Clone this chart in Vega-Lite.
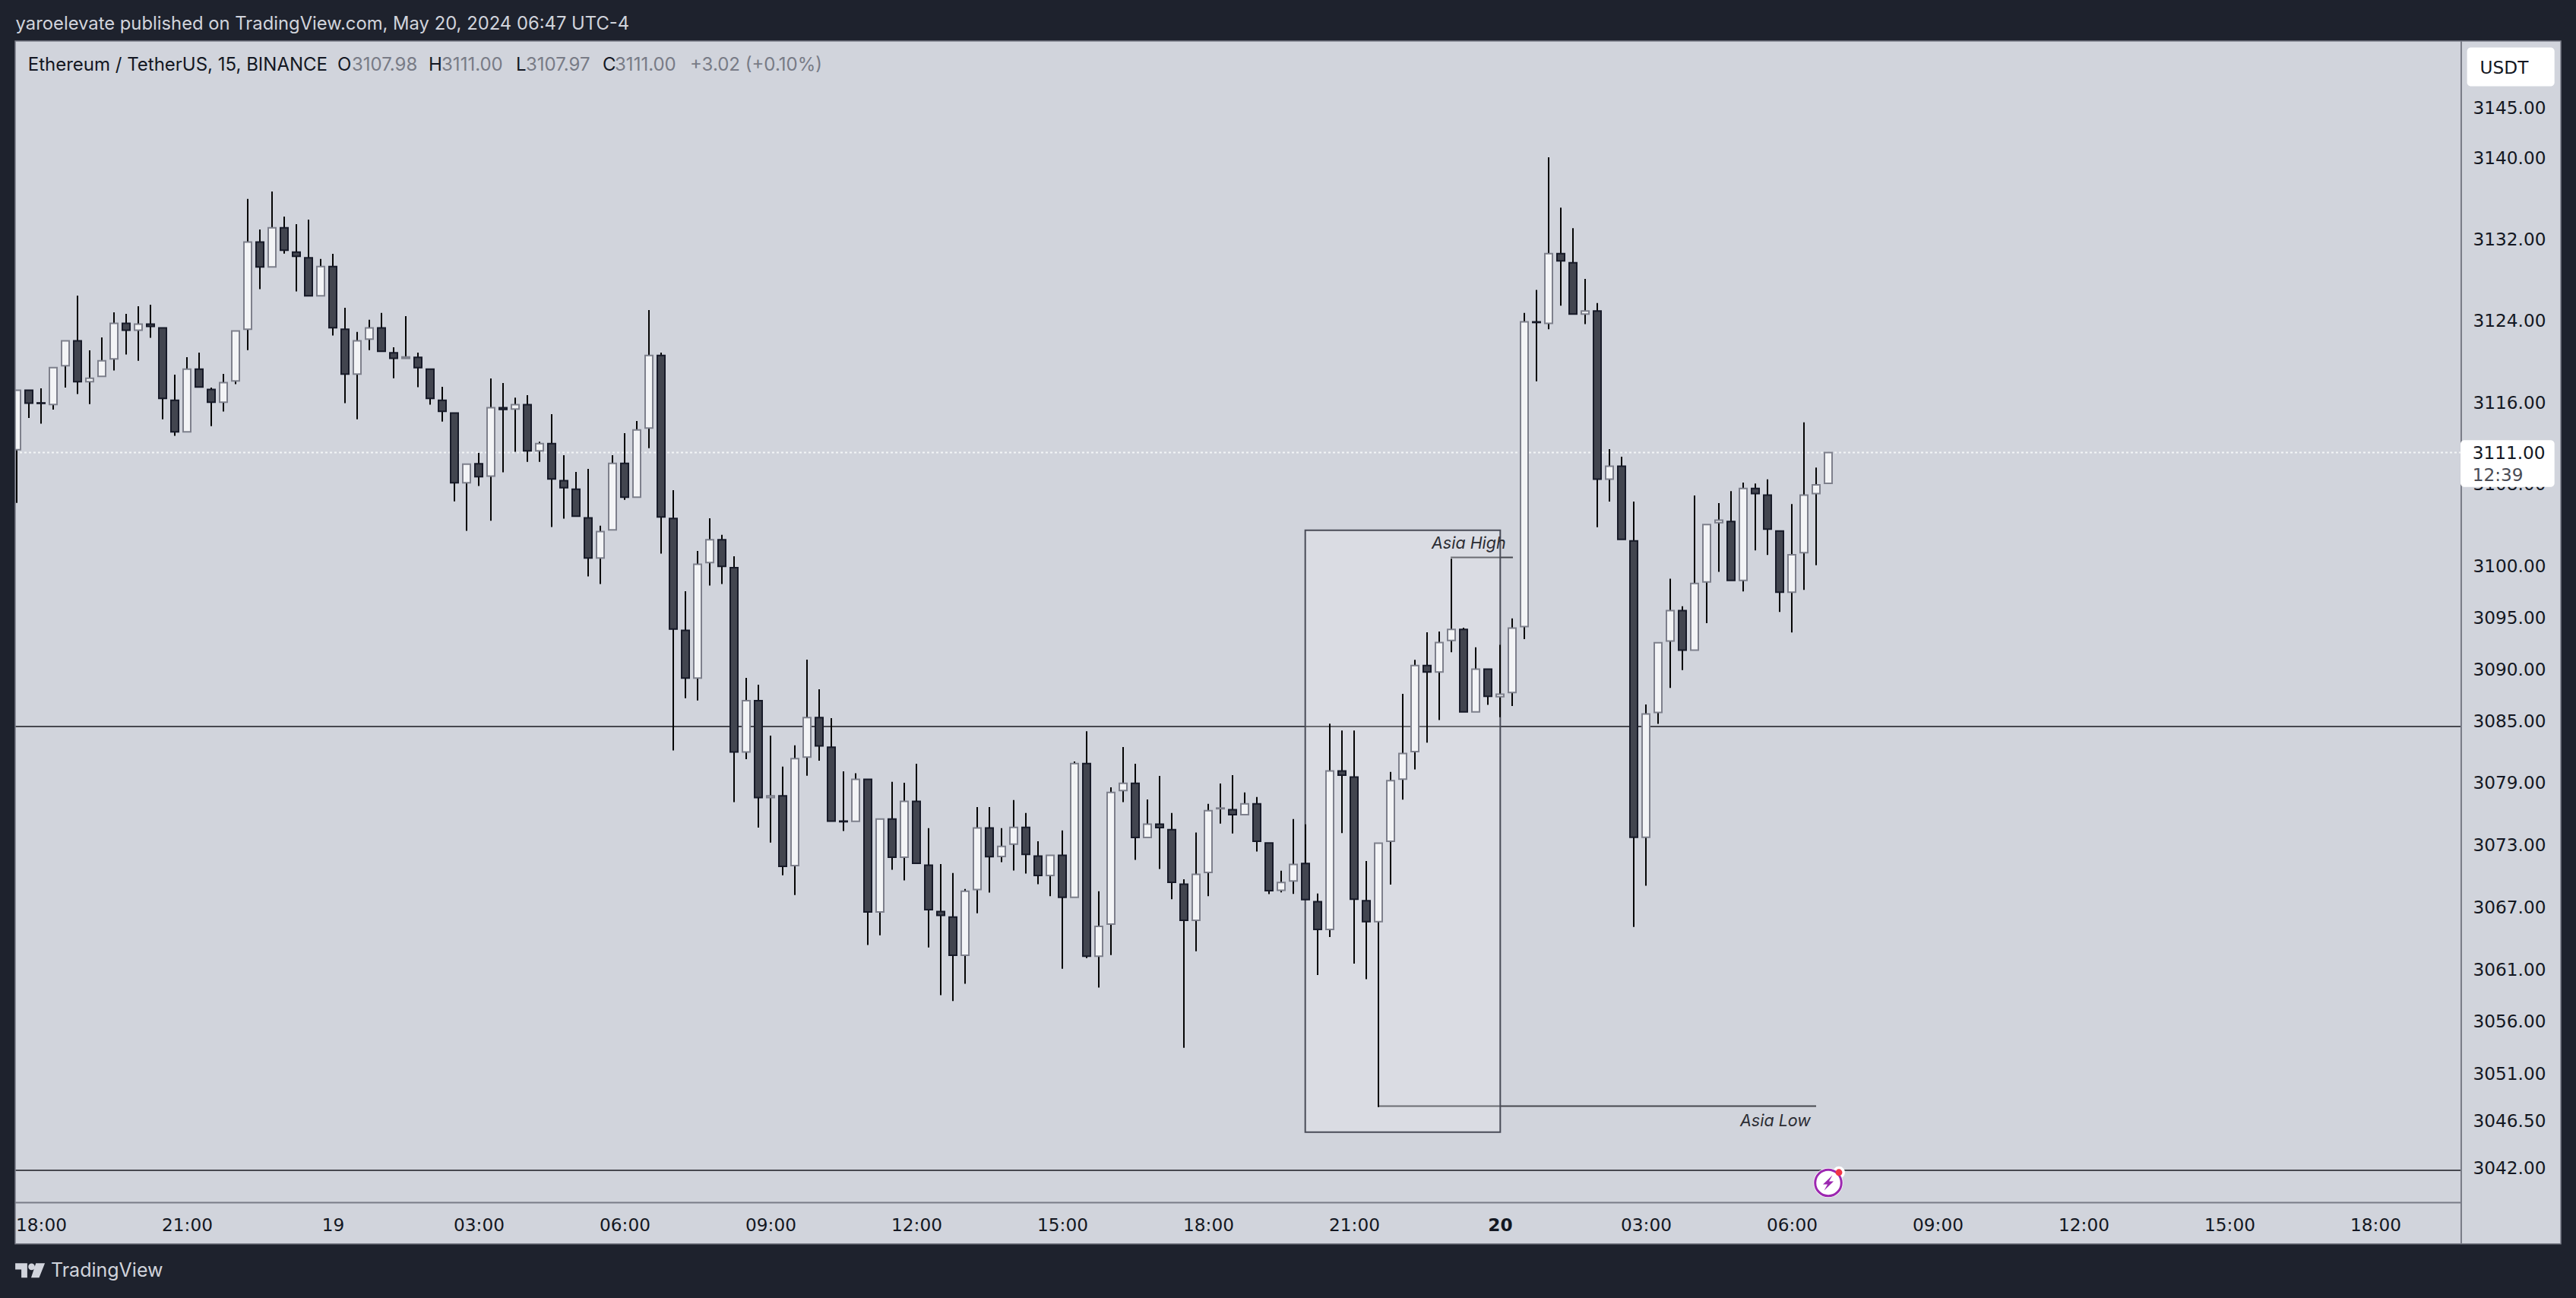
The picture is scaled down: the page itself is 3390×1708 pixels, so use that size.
{"$schema":"https://vega.github.io/schema/vega-lite/v6.json","width":3390,"height":1708,"padding":0,"autosize":{"type":"fit","contains":"padding"},"background":"#d1d4dc","view":{"stroke":null},"config":{"font":"Inter","text":{"font":"Inter"},"scale":{"continuousPadding":0}},
"resolve":{"axis":{"x":"independent","y":"independent"}},
"datasets":{
"candles":[
{"i":0,"o":3111.28,"h":3117.08,"l":3106.08,"c":3117.08},{"i":1,"o":3117.08,"h":3117.08,"l":3114.38,"c":3115.82},{"i":2,"o":3115.85,"h":3117.28,"l":3113.81,"c":3115.8},{"i":3,"o":3115.69,"h":3119.31,"l":3115.2,"c":3119.31},{"i":4,"o":3119.49,"h":3121.92,"l":3117.35,"c":3121.92},{"i":5,"o":3121.92,"h":3126.37,"l":3116.71,"c":3117.92},{"i":6,"o":3117.92,"h":3121,"l":3115.74,"c":3118.27},{"i":7,"o":3118.45,"h":3122.27,"l":3118.45,"c":3119.98},{"i":8,"o":3120.16,"h":3124.73,"l":3119.02,"c":3123.64},{"i":9,"o":3123.64,"h":3124.58,"l":3120.58,"c":3122.97},
{"i":10,"o":3122.97,"h":3125.32,"l":3119.98,"c":3123.56},{"i":11,"o":3123.56,"h":3125.47,"l":3122.22,"c":3123.34},{"i":12,"o":3123.19,"h":3123.19,"l":3114.25,"c":3116.29},{"i":13,"o":3116.11,"h":3118.62,"l":3112.62,"c":3113.01},{"i":14,"o":3113.01,"h":3120.33,"l":3113.01,"c":3119.16},{"i":15,"o":3119.16,"h":3120.78,"l":3117.4,"c":3117.4},{"i":16,"o":3117.16,"h":3117.35,"l":3113.58,"c":3115.92},{"i":17,"o":3115.92,"h":3118.69,"l":3115,"c":3117.83},{"i":18,"o":3118,"h":3122.89,"l":3117.68,"c":3122.89},{"i":19,"o":3123.07,"h":3135.87,"l":3121.02,"c":3131.63},
{"i":20,"o":3131.63,"h":3132.87,"l":3127,"c":3129.18},{"i":21,"o":3129.18,"h":3136.61,"l":3129.18,"c":3133.04},{"i":22,"o":3133.04,"h":3134.13,"l":3130.5,"c":3130.83},{"i":23,"o":3130.65,"h":3133.39,"l":3126.77,"c":3130.23},{"i":24,"o":3130.08,"h":3133.84,"l":3126.34,"c":3126.34},{"i":25,"o":3126.34,"h":3129.96,"l":3126.34,"c":3129.23},{"i":26,"o":3129.23,"h":3130.48,"l":3122.45,"c":3123.22},{"i":27,"o":3123.07,"h":3125.18,"l":3115.82,"c":3118.67},{"i":28,"o":3118.67,"h":3122.8,"l":3114.25,"c":3121.92},{"i":29,"o":3122.09,"h":3123.99,"l":3121.02,"c":3123.19},
{"i":30,"o":3123.19,"h":3124.66,"l":3120.9,"c":3120.9},{"i":31,"o":3120.75,"h":3121.3,"l":3118.27,"c":3120.21},{"i":32,"o":3120.21,"h":3124.36,"l":3120.21,"c":3120.35},{"i":33,"o":3120.3,"h":3120.78,"l":3117.38,"c":3119.31},{"i":34,"o":3119.16,"h":3119.16,"l":3115.67,"c":3116.29},{"i":35,"o":3116.11,"h":3117.43,"l":3114.03,"c":3115.02},{"i":36,"o":3114.85,"h":3114.85,"l":3106.23,"c":3108.04},{"i":37,"o":3108.04,"h":3109.86,"l":3103.35,"c":3109.86},{"i":38,"o":3109.89,"h":3110.96,"l":3107.72,"c":3108.63},{"i":39,"o":3108.69,"h":3118.25,"l":3104.34,"c":3115.37},
{"i":40,"o":3115.37,"h":3117.8,"l":3109.06,"c":3115.22},{"i":41,"o":3115.25,"h":3116.36,"l":3111.06,"c":3115.67},{"i":42,"o":3115.67,"h":3116.61,"l":3110.09,"c":3111.16},{"i":43,"o":3111.16,"h":3112.05,"l":3110.09,"c":3111.87},{"i":44,"o":3111.87,"h":3114.75,"l":3103.72,"c":3108.41},{"i":45,"o":3108.24,"h":3110.74,"l":3104.54,"c":3107.57},{"i":46,"o":3107.42,"h":3109.11,"l":3104.79,"c":3104.79},{"i":47,"o":3104.61,"h":3109.4,"l":3098.91,"c":3100.71},{"i":48,"o":3100.71,"h":3103.85,"l":3098.17,"c":3103.28},{"i":49,"o":3103.45,"h":3110.74,"l":3103.45,"c":3109.94},
{"i":50,"o":3109.94,"h":3112.89,"l":3106.38,"c":3106.63},{"i":51,"o":3106.63,"h":3114.08,"l":3106.63,"c":3113.21},{"i":52,"o":3113.39,"h":3124.95,"l":3111.43,"c":3120.5},{"i":53,"o":3120.5,"h":3120.78,"l":3101.13,"c":3104.71},{"i":54,"o":3104.56,"h":3107.32,"l":3082.02,"c":3093.8},{"i":55,"o":3093.66,"h":3097.47,"l":3087.09,"c":3089.03},{"i":56,"o":3089.03,"h":3101.4,"l":3086.87,"c":3100.09},{"i":57,"o":3100.26,"h":3104.58,"l":3098.02,"c":3102.49},{"i":58,"o":3102.49,"h":3102.96,"l":3098.17,"c":3099.89},{"i":59,"o":3099.77,"h":3100.88,"l":3077.02,"c":3081.87},
{"i":60,"o":3081.87,"h":3089.06,"l":3081.18,"c":3086.84},{"i":61,"o":3086.84,"h":3088.39,"l":3074.57,"c":3077.46},{"i":62,"o":3077.46,"h":3083.46,"l":3073.11,"c":3077.63},{"i":63,"o":3077.63,"h":3080.45,"l":3069.96,"c":3070.83},{"i":64,"o":3070.9,"h":3082.51,"l":3068.05,"c":3081.23},{"i":65,"o":3081.38,"h":3090.83,"l":3079.57,"c":3085.2},{"i":66,"o":3085.2,"h":3087.95,"l":3081.03,"c":3082.46},{"i":67,"o":3082.33,"h":3085.15,"l":3075.18,"c":3075.18},{"i":68,"o":3075.19,"h":3080,"l":3074.24,"c":3075.13},{"i":69,"o":3075.16,"h":3079.82,"l":3075.16,"c":3079.22},
{"i":70,"o":3079.22,"h":3079.22,"l":3063.24,"c":3066.42},{"i":71,"o":3066.42,"h":3075.39,"l":3064.18,"c":3075.39},{"i":72,"o":3075.39,"h":3078.98,"l":3070.49,"c":3071.7},{"i":73,"o":3071.7,"h":3078.9,"l":3069.47,"c":3077.1},{"i":74,"o":3077.1,"h":3080.74,"l":3071.12,"c":3071.12},{"i":75,"o":3070.94,"h":3074.5,"l":3063,"c":3066.65},{"i":76,"o":3066.47,"h":3071.04,"l":3058.43,"c":3066.1},{"i":77,"o":3065.94,"h":3070.18,"l":3057.85,"c":3062.25},{"i":78,"o":3062.25,"h":3068.64,"l":3059.51,"c":3068.43},{"i":79,"o":3068.59,"h":3076.55,"l":3066.3,"c":3074.53},
{"i":80,"o":3074.53,"h":3076.55,"l":3068.3,"c":3071.75},{"i":81,"o":3071.78,"h":3074.5,"l":3071.23,"c":3072.75},{"i":82,"o":3072.96,"h":3077.23,"l":3070.42,"c":3074.58},{"i":83,"o":3074.58,"h":3075.97,"l":3070.13,"c":3071.97},{"i":84,"o":3071.81,"h":3073.25,"l":3069.1,"c":3069.95},{"i":85,"o":3069.95,"h":3071.89,"l":3067.94,"c":3071.89},{"i":86,"o":3071.89,"h":3074.29,"l":3060.97,"c":3067.83},{"i":87,"o":3067.83,"h":3080.95,"l":3067.83,"c":3080.76},{"i":88,"o":3080.76,"h":3083.88,"l":3061.99,"c":3062.17},{"i":89,"o":3062.17,"h":3068.43,"l":3059.15,"c":3065.04},
{"i":90,"o":3065.25,"h":3078.46,"l":3062.28,"c":3077.96},{"i":91,"o":3078.15,"h":3082.36,"l":3077.02,"c":3078.85},{"i":92,"o":3078.85,"h":3080.74,"l":3071.44,"c":3073.61},{"i":93,"o":3073.61,"h":3077.28,"l":3073.61,"c":3074.9},{"i":94,"o":3074.9,"h":3079.56,"l":3070.57,"c":3074.56},{"i":95,"o":3074.37,"h":3075.97,"l":3067.65,"c":3069.29},{"i":96,"o":3069.1,"h":3069.57,"l":3053.38,"c":3065.62},{"i":97,"o":3065.62,"h":3074.08,"l":3062.64,"c":3070.05},{"i":98,"o":3070.23,"h":3076.86,"l":3067.94,"c":3076.2},{"i":99,"o":3076.39,"h":3078.82,"l":3074.95,"c":3076.45},
{"i":100,"o":3076.28,"h":3079.64,"l":3074,"c":3075.81},{"i":101,"o":3075.81,"h":3077.96,"l":3075.81,"c":3076.86},{"i":102,"o":3076.86,"h":3077.52,"l":3072.25,"c":3073.25},{"i":103,"o":3073.07,"h":3073.07,"l":3068.15,"c":3068.48},{"i":104,"o":3068.51,"h":3070.4,"l":3068.32,"c":3069.26},{"i":105,"o":3069.41,"h":3075.38,"l":3068.16,"c":3071.01},{"i":106,"o":3071.09,"h":3074.87,"l":3067.61,"c":3067.61},{"i":107,"o":3067.42,"h":3068.2,"l":3060.35,"c":3064.75},{"i":108,"o":3064.75,"h":3084.62,"l":3064.01,"c":3080.03},{"i":109,"o":3080.03,"h":3083.95,"l":3074.03,"c":3079.64},
{"i":110,"o":3079.44,"h":3083.95,"l":3061.45,"c":3067.65},{"i":111,"o":3067.5,"h":3071.33,"l":3059.96,"c":3065.5},{"i":112,"o":3065.5,"h":3073.05,"l":3047.7,"c":3073.05},{"i":113,"o":3073.25,"h":3079.95,"l":3069.06,"c":3079.09},{"i":114,"o":3079.24,"h":3087.51,"l":3077.27,"c":3081.72},{"i":115,"o":3081.91,"h":3090.8,"l":3080.19,"c":3090.25},{"i":116,"o":3090.25,"h":3093.48,"l":3082.77,"c":3089.63},{"i":117,"o":3089.63,"h":3093.56,"l":3084.97,"c":3092.49},{"i":118,"o":3092.69,"h":3100.64,"l":3091.55,"c":3093.76},{"i":119,"o":3093.76,"h":3093.92,"l":3085.76,"c":3085.76},
{"i":120,"o":3085.76,"h":3092.02,"l":3085.76,"c":3089.91},{"i":121,"o":3089.91,"h":3089.91,"l":3086.44,"c":3087.27},{"i":122,"o":3087.23,"h":3092.26,"l":3085.25,"c":3087.47},{"i":123,"o":3087.63,"h":3094.83,"l":3086.32,"c":3093.88},{"i":124,"o":3094.03,"h":3124.67,"l":3092.82,"c":3123.79},{"i":125,"o":3123.79,"h":3126.93,"l":3117.97,"c":3123.73},{"i":126,"o":3123.64,"h":3139.98,"l":3123.06,"c":3130.5},{"i":127,"o":3130.5,"h":3135.02,"l":3125.38,"c":3129.79},{"i":128,"o":3129.59,"h":3133,"l":3124.5,"c":3124.55},{"i":129,"o":3124.55,"h":3128,"l":3123.56,"c":3124.85},
{"i":130,"o":3124.85,"h":3125.63,"l":3103.7,"c":3108.39},{"i":131,"o":3108.39,"h":3111.33,"l":3106.21,"c":3109.65},{"i":132,"o":3109.65,"h":3110.58,"l":3102.53,"c":3102.53},{"i":133,"o":3102.38,"h":3106.21,"l":3064.99,"c":3073.63},{"i":134,"o":3073.63,"h":3086.48,"l":3068.95,"c":3085.56},{"i":135,"o":3085.71,"h":3092.47,"l":3084.59,"c":3092.47},{"i":136,"o":3092.63,"h":3098.7,"l":3088.08,"c":3095.59},{"i":137,"o":3095.59,"h":3096.01,"l":3089.81,"c":3091.74},{"i":138,"o":3091.74,"h":3106.81,"l":3091.74,"c":3098.23},{"i":139,"o":3098.38,"h":3103.97,"l":3094.37,"c":3103.97},
{"i":140,"o":3104.15,"h":3106.06,"l":3099.35,"c":3104.4},{"i":141,"o":3104.27,"h":3107.22,"l":3098.53,"c":3098.53},{"i":142,"o":3098.53,"h":3108.07,"l":3097.45,"c":3107.49},{"i":143,"o":3107.49,"h":3107.97,"l":3101.45,"c":3106.99},{"i":144,"o":3106.84,"h":3108.37,"l":3101,"c":3103.53},{"i":145,"o":3103.34,"h":3103.34,"l":3095.46,"c":3097.38},{"i":146,"o":3097.38,"h":3105.96,"l":3093.46,"c":3101.03},{"i":147,"o":3101.23,"h":3113.95,"l":3097.6,"c":3106.84},{"i":148,"o":3106.99,"h":3109.52,"l":3100,"c":3107.84},{"i":149,"o":3107.98,"h":3111,"l":3107.97,"c":3111}
],
"levels":[{"a":-0.125,"b":201.06,"p":3084.34},{"a":-0.125,"b":201.06,"p":3041.64},{"a":117.94,"b":123.06,"p":3100.76},{"a":112,"b":148,"p":3047.78}],
"box":[{"a":105.98,"b":122.02,"p":3103.41,"q":3045.29}],
"frame":[{"a":-1.375,"b":210.5,"p":3155.53,"q":3151.46},{"a":-1.375,"b":210.5,"p":3034.63,"q":3029.47},{"a":-1.375,"b":-0.125,"p":3155.53,"q":3029.47},{"a":209.25,"b":210.5,"p":3155.53,"q":3029.47}],
"labels":[{"i":116.375,"p":3102.03,"text":"Asia High"},{"i":141.75,"p":3046.28,"text":"Asia Low"}]
},
"layer":[
{"data":{"name":"levels"},"mark":{"type":"rule","color":"#47484f","strokeWidth":2},"encoding":{
 "x":{"field":"a","type":"quantitative","title":null,"scale":{"domain":[-1.375,210.5],"nice":false,"zero":false},
  "axis":{"orient":"bottom","offset":-96,"values":[2,14,26,38,50,62,74,86,98,110,122,134,146,158,170,182,194],"labelExpr":"{'2':'18:00','14':'21:00','26':'19','38':'03:00','50':'06:00','62':'09:00','74':'12:00','86':'15:00','98':'18:00','110':'21:00','122':'20','134':'03:00','146':'06:00','158':'09:00','170':'12:00','182':'15:00','194':'18:00'}[datum.value]","domain":false,"ticks":false,"grid":false,"labelPadding":0,"tickSize":0,"labelBaseline":"middle","labelFont":"DejaVu Sans","labelFontSize":23.2,"labelColor":"#131722","labelFlush":false,"labelOverlap":false,"labelBound":false,"labelFontWeight":{"condition":{"test":"datum.value==122","value":"bold"},"value":"normal"}}},
 "x2":{"field":"b"},
 "y":{"field":"p","type":"quantitative","title":null,"scale":{"type":"log","domain":[3029.47,3155.53],"nice":false,"zero":false},
  "axis":{"orient":"right","offset":-136,"labelOffset":2,"values":[3145,3140,3132,3124,3116,3108,3100,3095,3090,3085,3079,3073,3067,3061,3056,3051,3046.5,3042],"format":".2f","domain":false,"ticks":false,"grid":false,"labelPadding":0,"tickSize":0,"labelAlign":"left","labelBaseline":"middle","labelFont":"DejaVu Sans","labelFontSize":23.2,"labelColor":"#131722","labelFlush":false,"labelOverlap":false,"labelBound":false}}}},
{"data":{"values":[{"a":-0.125,"b":201.06,"p":3111}]},"mark":{"type":"rule","color":"#f4f5f7","strokeWidth":2,"strokeDash":[3,3]},"encoding":{"x":{"field":"a","type":"quantitative","axis":null,"scale":{"domain":[-1.375,210.5],"nice":false,"zero":false}},"x2":{"field":"b"},"y":{"field":"p","type":"quantitative","axis":null,"scale":{"type":"log","domain":[3029.47,3155.53],"nice":false,"zero":false}}}},
{"data":{"name":"box"},"mark":{"type":"rect","fill":"#ffffff","fillOpacity":0.2,"stroke":"#494b57","strokeWidth":2},"encoding":{"x":{"field":"a","type":"quantitative","axis":null,"scale":{"domain":[-1.375,210.5],"nice":false,"zero":false}},"x2":{"field":"b"},"y":{"field":"p","type":"quantitative","axis":null,"scale":{"type":"log","domain":[3029.47,3155.53],"nice":false,"zero":false}},"y2":{"field":"q"}}},
{"data":{"name":"candles"},"mark":{"type":"rule","color":"#050505","strokeWidth":2},"encoding":{"x":{"field":"i","type":"quantitative","axis":null,"scale":{"domain":[-1.375,210.5],"nice":false,"zero":false}},"y":{"field":"h","type":"quantitative","axis":null,"scale":{"type":"log","domain":[3029.47,3155.53],"nice":false,"zero":false}},"y2":{"field":"l"}}},
{"data":{"name":"candles"},"mark":{"type":"bar","size":10,"orient":"vertical","strokeWidth":2},"encoding":{"x":{"field":"i","type":"quantitative","axis":null,"scale":{"domain":[-1.375,210.5],"nice":false,"zero":false}},"y":{"field":"o","type":"quantitative","axis":null,"scale":{"type":"log","domain":[3029.47,3155.53],"nice":false,"zero":false}},"y2":{"field":"c"},
 "fill":{"condition":{"test":"datum.c>=datum.o","value":"#f3f4f6"},"value":"#42454f"},"stroke":{"condition":{"test":"datum.c>=datum.o","value":"#7e808c"},"value":"#171a28"}}},
{"data":{"name":"labels"},"mark":{"type":"text","align":"left","baseline":"middle","font":"Inter","fontStyle":"italic","fontSize":21.5,"color":"#2b2c33"},"encoding":{"x":{"field":"i","type":"quantitative","axis":null,"scale":{"domain":[-1.375,210.5],"nice":false,"zero":false}},"y":{"field":"p","type":"quantitative","axis":null,"scale":{"type":"log","domain":[3029.47,3155.53],"nice":false,"zero":false}},"text":{"field":"text"}}},
{"data":{"values":[{"i":149,"p":3040.45,"role":"halo"},{"i":149.875,"p":3041.44,"role":"dothalo"}]},"mark":{"type":"point","shape":"circle","filled":true,"color":"#ffffff","opacity":1},"encoding":{"x":{"field":"i","type":"quantitative","axis":null,"scale":{"domain":[-1.375,210.5],"nice":false,"zero":false}},"y":{"field":"p","type":"quantitative","axis":null,"scale":{"type":"log","domain":[3029.47,3155.53],"nice":false,"zero":false}},"size":{"field":"role","type":"nominal","legend":null,"scale":{"domain":["halo","dothalo"],"range":[1520,254]}}}},
{"data":{"values":[{"i":149,"p":3040.45}]},"mark":{"type":"point","shape":"circle","filled":false,"stroke":"#9c27b0","strokeWidth":3,"size":1195,"opacity":1},"encoding":{"x":{"field":"i","type":"quantitative","axis":null,"scale":{"domain":[-1.375,210.5],"nice":false,"zero":false}},"y":{"field":"p","type":"quantitative","axis":null,"scale":{"type":"log","domain":[3029.47,3155.53],"nice":false,"zero":false}}}},
{"data":{"values":[{"i":149,"p":3040.45}]},"mark":{"type":"point","shape":"M0.55,-1 L-0.7,0.2 L-0.1,0.2 L-0.55,1 L0.7,-0.2 L0.1,-0.2 Z","filled":true,"color":"#9c27b0","size":400,"opacity":1},"encoding":{"x":{"field":"i","type":"quantitative","axis":null,"scale":{"domain":[-1.375,210.5],"nice":false,"zero":false}},"y":{"field":"p","type":"quantitative","axis":null,"scale":{"type":"log","domain":[3029.47,3155.53],"nice":false,"zero":false}}}},
{"data":{"values":[{"i":149.875,"p":3041.44}]},"mark":{"type":"point","shape":"circle","filled":true,"color":"#f23645","size":79,"opacity":1},"encoding":{"x":{"field":"i","type":"quantitative","axis":null,"scale":{"domain":[-1.375,210.5],"nice":false,"zero":false}},"y":{"field":"p","type":"quantitative","axis":null,"scale":{"type":"log","domain":[3029.47,3155.53],"nice":false,"zero":false}}}},
{"data":{"values":[{"a":-0.125,"b":201.06,"p":3038.56}]},"mark":{"type":"rule","color":"#787b86","strokeWidth":2},"encoding":{"x":{"field":"a","type":"quantitative","axis":null,"scale":{"domain":[-1.375,210.5],"nice":false,"zero":false}},"x2":{"field":"b"},"y":{"field":"p","type":"quantitative","axis":null,"scale":{"type":"log","domain":[3029.47,3155.53],"nice":false,"zero":false}}}},
{"data":{"values":[{"i":201.06,"p":3151.46,"q":3034.63}]},"mark":{"type":"rule","color":"#787b86","strokeWidth":2},"encoding":{"x":{"field":"i","type":"quantitative","axis":null,"scale":{"domain":[-1.375,210.5],"nice":false,"zero":false}},"y":{"field":"p","type":"quantitative","axis":null,"scale":{"type":"log","domain":[3029.47,3155.53],"nice":false,"zero":false}},"y2":{"field":"q"}}},
{"data":{"values":[{"a":201.0,"b":208.73,"p":3112.21,"q":3107.64},{"a":201.54,"b":208.73,"p":3150.83,"q":3146.99}]},"mark":{"type":"rect","fill":"#ffffff","cornerRadius":5},"encoding":{"x":{"field":"a","type":"quantitative","axis":null,"scale":{"domain":[-1.375,210.5],"nice":false,"zero":false}},"x2":{"field":"b"},"y":{"field":"p","type":"quantitative","axis":null,"scale":{"type":"log","domain":[3029.47,3155.53],"nice":false,"zero":false}},"y2":{"field":"q"}}},
{"data":{"values":[{"i":201.98,"p":3111,"text":"3111.00","role":"main"},{"i":201.98,"p":3108.88,"text":"12:39","role":"timer"},{"i":202.6,"p":3148.92,"text":"USDT","role":"main"}]},"mark":{"type":"text","align":"left","baseline":"middle","font":"DejaVu Sans","fontSize":23.2,"dy":2},"encoding":{"x":{"field":"i","type":"quantitative","axis":null,"scale":{"domain":[-1.375,210.5],"nice":false,"zero":false}},"y":{"field":"p","type":"quantitative","axis":null,"scale":{"type":"log","domain":[3029.47,3155.53],"nice":false,"zero":false}},"text":{"field":"text"},"color":{"field":"role","type":"nominal","legend":null,"scale":{"domain":["main","timer","grey"],"range":["#131722","#4a4c55","#787b86"]}}}},
{"data":{"name":"frame"},"mark":{"type":"rect","fill":"#1e222d"},"encoding":{"x":{"field":"a","type":"quantitative","axis":null,"scale":{"domain":[-1.375,210.5],"nice":false,"zero":false}},"x2":{"field":"b"},"y":{"field":"p","type":"quantitative","axis":null,"scale":{"type":"log","domain":[3029.47,3155.53],"nice":false,"zero":false}},"y2":{"field":"q"}}},
{"data":{"values":[{"a":-0.125,"b":209.25,"p":3151.46,"q":3034.63}]},"mark":{"type":"rect","fillOpacity":0,"stroke":"#787b86","strokeWidth":1.5},"encoding":{"x":{"field":"a","type":"quantitative","axis":null,"scale":{"domain":[-1.375,210.5],"nice":false,"zero":false}},"x2":{"field":"b"},"y":{"field":"p","type":"quantitative","axis":null,"scale":{"type":"log","domain":[3029.47,3155.53],"nice":false,"zero":false}},"y2":{"field":"q"}}},
{"data":{"values":[{"i":-0.09,"p":3153.12,"text":"yaroelevate published on TradingView.com, May 20, 2024 06:47 UTC-4"}]},"mark":{"type":"text","align":"left","baseline":"middle","font":"Inter","fontSize":23.8,"color":"#d1d4dc"},"encoding":{"x":{"field":"i","type":"quantitative","axis":null,"scale":{"domain":[-1.375,210.5],"nice":false,"zero":false}},"y":{"field":"p","type":"quantitative","axis":null,"scale":{"type":"log","domain":[3029.47,3155.53],"nice":false,"zero":false}},"text":{"field":"text"}}},
{"data":{"values":[{"i":2.81,"p":3032.09,"text":"TradingView"}]},"mark":{"type":"text","align":"left","baseline":"middle","font":"Inter","fontSize":25,"color":"#d1d4dc"},"encoding":{"x":{"field":"i","type":"quantitative","axis":null,"scale":{"domain":[-1.375,210.5],"nice":false,"zero":false}},"y":{"field":"p","type":"quantitative","axis":null,"scale":{"type":"log","domain":[3029.47,3155.53],"nice":false,"zero":false}},"text":{"field":"text"}}},
{"data":{"values":[{"i":1.1,"p":3032.09}]},"mark":{"type":"point","shape":"M-1,-0.49 L-0.19,-0.49 L-0.19,0.49 L-0.59,0.49 L-0.59,-0.07 L-1,-0.07 Z M-0.12,-0.25 A0.22,0.22 0 1 1 0.32,-0.25 A0.22,0.22 0 1 1 -0.12,-0.25 Z M0.39,-0.49 L1,-0.49 L0.61,0.49 L0.07,0.49 Z","filled":true,"color":"#d1d4dc","size":1521,"opacity":1},"encoding":{"x":{"field":"i","type":"quantitative","axis":null,"scale":{"domain":[-1.375,210.5],"nice":false,"zero":false}},"y":{"field":"p","type":"quantitative","axis":null,"scale":{"type":"log","domain":[3029.47,3155.53],"nice":false,"zero":false}}}},
{"data":{"values":[{"i":0.92,"p":3149.06,"text":"Ethereum / TetherUS, 15, BINANCE","role":"main"},{"i":26.375,"p":3149.06,"text":"O","role":"main"},{"i":27.56,"p":3149.06,"text":"3107.98","role":"grey"},{"i":33.875,"p":3149.06,"text":"H","role":"main"},{"i":34.94,"p":3149.06,"text":"3111.00","role":"grey"},{"i":41.06,"p":3149.06,"text":"L","role":"main"},{"i":41.875,"p":3149.06,"text":"3107.97","role":"grey"},{"i":48.19,"p":3149.06,"text":"C","role":"main"},{"i":49.19,"p":3149.06,"text":"3111.00","role":"grey"},{"i":55.375,"p":3149.06,"text":"+3.02 (+0.10%)","role":"grey"}]},"mark":{"type":"text","align":"left","baseline":"middle","font":"Inter","fontSize":24},"encoding":{"x":{"field":"i","type":"quantitative","axis":null,"scale":{"domain":[-1.375,210.5],"nice":false,"zero":false}},"y":{"field":"p","type":"quantitative","axis":null,"scale":{"type":"log","domain":[3029.47,3155.53],"nice":false,"zero":false}},"text":{"field":"text"},"color":{"field":"role","type":"nominal","legend":null,"scale":{"domain":["main","timer","grey"],"range":["#131722","#4a4c55","#787b86"]}}}}
]}
